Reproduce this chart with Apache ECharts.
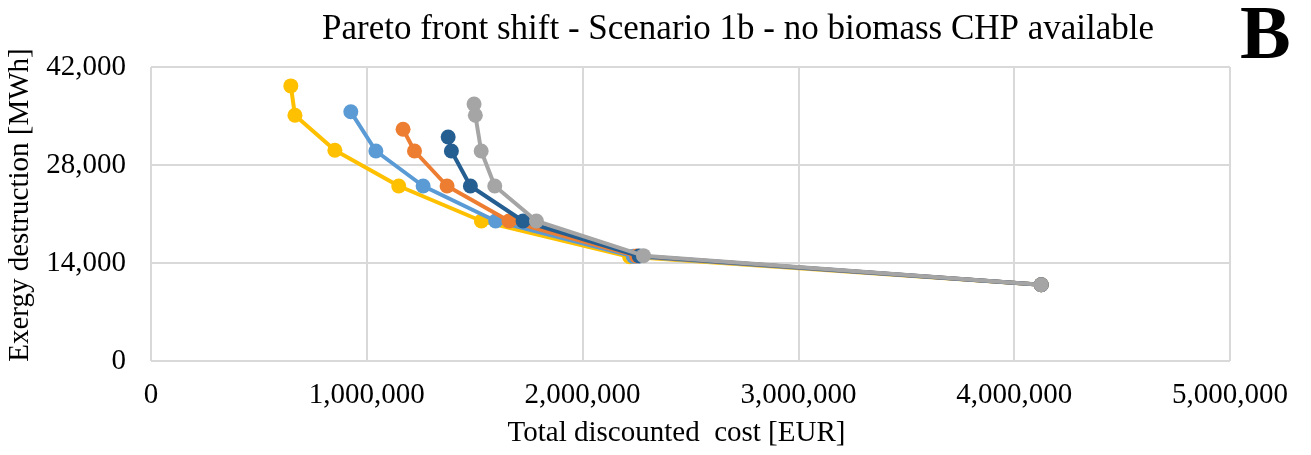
<!DOCTYPE html>
<html>
<head>
<meta charset="utf-8">
<script src="https://cdn.jsdelivr.net/npm/echarts@6/dist/echarts.min.js"></script>
<style>
  html, body { margin: 0; padding: 0; background: #fff; }
  #chart { width: 1311px; height: 455px; }
</style>
</head>
<body>
<div id="chart"></div>
<script>
// values: [cost EUR, exergy MWh]
const yellowPts = [[648000, 39300], [667000, 35100], [852000, 30100], [1148000, 25000], [1531000, 20000], [2218000, 14900], [4125000, 10900]];
const lightBluePts = [[926000, 35600], [1042000, 30000], [1261000, 25000], [1597000, 20000], [2235000, 14950], [4125000, 10900]];
const orangePts = [[1168000, 33100], [1221000, 30000], [1372000, 25000], [1659000, 20000], [2250000, 15000], [4125000, 10900]];
const darkBluePts = [[1377000, 32000], [1392000, 30000], [1480000, 25000], [1724000, 20000], [2262000, 15000], [4125000, 10900]];
const grayPts = [[1497000, 36700], [1503000, 35100], [1530000, 30000], [1593000, 25000], [1786000, 20000], [2282000, 15050], [4125000, 10900]];

const seriesList = [
  { data: yellowPts, color: '#FFC000' },
  { data: lightBluePts, color: '#5B9BD5' },
  { data: orangePts, color: '#ED7D31' },
  { data: darkBluePts, color: '#255E91' },
  { data: grayPts, color: '#A5A5A5' }
];

const serif = '"Liberation Serif", "Times New Roman", serif';
const chart = echarts.init(document.getElementById('chart'));

chart.setOption({
  animation: false,
  grid: { left: 151, right: 81, top: 67, bottom: 94, outerBoundsMode: 'none', containLabel: false },
  graphic: [
    {
      type: 'text', left: 322, top: 12,
      style: { text: 'Pareto front shift - Scenario 1b - no biomass CHP available', font: '35px ' + serif, fill: '#000' }
    },
    {
      type: 'text', left: 1240, top: 0,
      style: { text: 'B', font: 'bold 76px ' + serif, fill: '#000' }
    }
  ],
  xAxis: {
    type: 'value', min: 0, max: 5000000, interval: 1000000,
    name: 'Total discounted  cost [EUR]', nameLocation: 'middle', nameGap: 58,
    nameTextStyle: { fontFamily: serif, fontSize: 29, color: '#000', padding: [0, 28, 0, 0] },
    axisLine: { show: false }, axisTick: { show: false },
    axisLabel: { margin: 20, fontFamily: serif, fontSize: 29, color: '#000',
      formatter: v => v.toLocaleString('en-US') },
    splitLine: { show: true, lineStyle: { color: '#D9D9D9', width: 2 } }
  },
  yAxis: {
    type: 'value', min: 0, max: 42000, interval: 14000,
    name: 'Exergy destruction [MWh]', nameLocation: 'middle', nameGap: 116,
    nameTextStyle: { fontFamily: serif, fontSize: 29, color: '#000', padding: [0, 0, 0, 18] },
    axisLine: { show: false }, axisTick: { show: false },
    axisLabel: { margin: 25, fontFamily: serif, fontSize: 29, color: '#000',
      formatter: v => v.toLocaleString('en-US') },
    splitLine: { show: true, lineStyle: { color: '#D9D9D9', width: 2 } }
  },
  series: seriesList.map((s, i) => ({
    type: 'line',
    data: s.data,
    z: 2 + i,
    symbol: 'circle',
    symbolSize: 15,
    itemStyle: { color: s.color },
    lineStyle: { color: s.color, width: 4 }
  }))
});
</script>
</body>
</html>
